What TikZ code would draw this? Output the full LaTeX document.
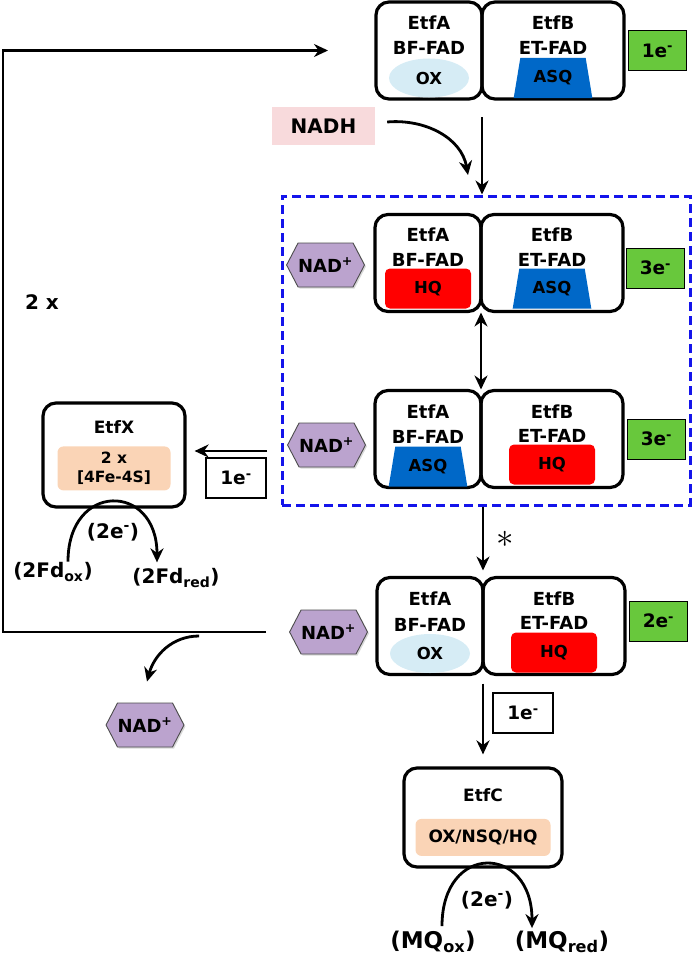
\documentclass[tikz,border=0pt]{standalone}
\usepackage{fontspec}
\setmainfont{DejaVu Sans}
\usetikzlibrary{arrows.meta,calc,positioning,shapes.geometric,shapes.symbols,shadows}

\definecolor{egreen}{RGB}{104,200,60}
\definecolor{nadpurple}{RGB}{187,163,206}
\definecolor{oxblue}{RGB}{214,236,245}
\definecolor{asqblue}{RGB}{0,104,200}
\definecolor{hqred}{RGB}{255,0,0}
\definecolor{fesorange}{RGB}{250,212,182}
\definecolor{nadhpink}{RGB}{248,218,220}
\definecolor{frameblue}{RGB}{20,20,235}
\newcommand{\fsz}[1]{\fontsize{#1}{#1}\selectfont\bfseries}

\begin{document}
\begin{tikzpicture}[x=1pt, y=-1pt, >={Stealth[length=14pt,width=13pt]}, node distance=10pt]
  % --- styles ---
  \tikzset{
    half/.style    = {draw, line width=3.2pt, rounded corners=13pt, minimum height=97pt, inner sep=0pt, outer sep=0pt},
    halfA/.style   = {half, minimum width=106pt},
    halfB/.style   = {half, minimum width=142pt},
    lab/.style     = {font=\fsz{18}, inner sep=0pt},
    ebox/.style    = {draw, line width=0.9pt, fill=egreen, minimum width=58pt, minimum height=40pt, inner sep=0pt, font=\fsz{18.5}},
    wbox/.style    = {draw, line width=1.4pt, fill=white, minimum width=60pt, minimum height=40pt, inner sep=0pt, font=\fsz{18.5}},
    nad/.style     = {signal, signal to=east and west, signal pointer angle=125, draw=black!70, line width=0.9pt,
                      fill=nadpurple, minimum width=75pt, minimum height=44pt, inner sep=0pt, font=\fsz{18},
                      drop shadow={opacity=0.3, shadow xshift=1.5pt, shadow yshift=-1.5pt}},
    oxst/.style    = {ellipse, fill=oxblue, minimum width=80pt, minimum height=39pt, inner sep=0pt, font=\fsz{16.5}},
    asqst/.style   = {trapezium, trapezium angle=75, trapezium stretches=true, fill=asqblue, minimum width=79pt,
                      minimum height=40pt, inner sep=0pt, font=\fsz{16.5}},
    hqst/.style    = {rectangle, rounded corners=5pt, fill=hqred, minimum width=86pt, minimum height=40pt, inner sep=0pt, font=\fsz{16.5}},
    fes/.style     = {rectangle, rounded corners=6pt, fill=fesorange, inner sep=0pt},
    subunit/.style = {draw, line width=3.2pt, rounded corners=13pt, inner sep=0pt},
    arr/.style     = {->, line width=2.8pt},
    cycleline/.style = {->, line width=2.3pt},
    txt/.style     = {font=\fsz{20}, inner sep=1pt}
  }

  % --- bifurcating frame ---
  \node[draw=frameblue, line width=3pt, dash pattern=on 9pt off 5pt, minimum width=408pt, minimum height=309pt, inner sep=0pt] (frame) at (486,350.5) {};

  % --- row 1: OX / ASQ ---
  \node[halfA] (A1) at (429,50.5) {};
  \node[halfB, right=0pt of A1] (B1) {};
  \node[oxst]  (A1s) at ($(A1.north)+(0,76)$) {OX};
  \node[asqst] (B1s) at ($(B1.north)+(0,76)$) {ASQ};
  \node[lab] (A1t) at ($(A1.north)+(0,21)$) {EtfA};
  \node[lab] (A1f) at ($(A1.north)+(0,46)$) {BF-FAD};
  \node[lab] (B1t) at ($(B1.north)+(0,21)$) {EtfB};
  \node[lab] (B1f) at ($(B1.north)+(0,46)$) {ET-FAD};
  \node[ebox, right=4pt of B1] (g1) {1e\textsuperscript{-}};

  % --- row 2: HQ / ASQ ---
  \node[halfA] (A2) at (428,263) {};
  \node[halfB, right=0pt of A2] (B2) {};
  \node[hqst]  (A2s) at ($(A2.north)+(0,74)$) {HQ};
  \node[asqst] (B2s) at ($(B2.north)+(0,74)$) {ASQ};
  \node[lab] (A2t) at ($(A2.north)+(0,20)$) {EtfA};
  \node[lab] (A2f) at ($(A2.north)+(0,45)$) {BF-FAD};
  \node[lab] (B2t) at ($(B2.north)+(0,20)$) {EtfB};
  \node[lab] (B2f) at ($(B2.north)+(0,45)$) {ET-FAD};
  \node[ebox, right=3pt of B2, yshift=-5pt] (g2) {3e\textsuperscript{-}};
  \node[nad, left=10pt of A2, yshift=-2pt] (n2) {NAD\textsuperscript{+}};

  % --- row 3: ASQ / HQ ---
  \node[halfA] (A3) at (428,439) {};
  \node[halfB, right=0pt of A3] (B3) {};
  \node[asqst] (A3s) at ($(A3.north)+(0,76)$) {ASQ};
  \node[hqst]  (B3s) at ($(B3.north)+(0,74)$) {HQ};
  \node[lab] (A3t) at ($(A3.north)+(0,21)$) {EtfA};
  \node[lab] (A3f) at ($(A3.north)+(0,46)$) {BF-FAD};
  \node[lab] (B3t) at ($(B3.north)+(0,21)$) {EtfB};
  \node[lab] (B3f) at ($(B3.north)+(0,45)$) {ET-FAD};
  \node[ebox, right=4pt of B3] (g3) {3e\textsuperscript{-}};
  \node[nad, left=9pt of A3, yshift=-6pt] (n3) {NAD\textsuperscript{+}};

  % --- row 4: OX / HQ ---
  \node[halfA] (A4) at (430,626) {};
  \node[halfB, right=0pt of A4] (B4) {};
  \node[oxst] (A4s) at ($(A4.north)+(0,76)$) {OX};
  \node[hqst] (B4s) at ($(B4.north)+(0,75)$) {HQ};
  \node[lab] (A4t) at ($(A4.north)+(0,21)$) {EtfA};
  \node[lab] (A4f) at ($(A4.north)+(0,47)$) {BF-FAD};
  \node[lab] (B4t) at ($(B4.north)+(0,21)$) {EtfB};
  \node[lab] (B4f) at ($(B4.north)+(0,45)$) {ET-FAD};
  \node[ebox, right=4pt of B4, yshift=5pt] (g4) {2e\textsuperscript{-}};
  \node[nad, left=9pt of A4, yshift=-6pt] (n4) {NAD\textsuperscript{+}};
  \node[nad] (n5) at (145,725) {NAD\textsuperscript{+}};

  % --- NADH entry ---
  \node[fill=nadhpink, minimum width=103pt, minimum height=38pt, inner sep=0pt, font=\fsz{20}] (nadh) at (323.5,126) {NADH};
  \coordinate (nadhend) at (468,175);
  \draw[arr] ([xshift=12pt,yshift=4pt]nadh.east) to[out=5, in=100] (nadhend);
  \draw[arr] ([yshift=-18pt]A1.south east) -- (A1.south east |- frame.north);
  \draw[<->, line width=2.8pt, shorten <=1pt, shorten >=1pt] (A2.south east) -- (A3.north east);
  \draw[arr] (frame.south -| A4.north east) -- ([yshift=7pt]A4.north east);
  \node[font=\Huge, scale=1.4] (star) at (505,539) {$\ast$};

  % --- EtfX branch ---
  \node[subunit, minimum width=142pt, minimum height=104pt] (etfx) at (114,455) {};
  \node[lab, font=\fsz{17}] (etfxt) at ($(etfx.north)+(0,26)$) {EtfX};
  \node[fes, minimum width=113pt, minimum height=44pt, align=center, font=\fsz{15.5}] (etfxs) at ($(etfx.north)+(0,67)$) {2 x\\[3pt]{[4Fe-4S]}};
  \coordinate (xstart) at (267,451);
  \draw[arr] (xstart) -- ([xshift=8pt]etfx.east |- xstart);
  \node[wbox] (e4) at (236,478) {1e\textsuperscript{-}};
  \node[txt] (fdox) at (53,572) {(2Fd\textsubscript{ox})};
  \node[txt] (fdred) at (176,578) {(2Fd\textsubscript{red})};
  \node[txt] (x2e) at (113,532) {(2e\textsuperscript{-})};
  \draw[arr] ([xshift=15pt]fdox.north) .. controls +(0,-80) and +(0,-80) .. ([xshift=-19pt,yshift=5pt]fdred.north);

  % --- EtfC branch ---
  \node[subunit, minimum width=158pt, minimum height=99pt] (etfc) at (483,817.5) {};
  \node[lab, font=\fsz{17}] (etfct) at ($(etfc.north)+(0,29)$) {EtfC};
  \node[fes, minimum width=135pt, minimum height=37pt, font=\fsz{17}] (etfcs) at ($(etfc.north)+(0,71)$) {OX/NSQ/HQ};
  \draw[arr] ([yshift=-9pt]A4.south east) -- ([yshift=12pt]etfc.north);
  \node[wbox] (e5) at (523,713) {1e\textsuperscript{-}};
  \node[txt, font=\fsz{23}] (mqox) at (433,942) {(MQ\textsubscript{ox})};
  \node[txt, font=\fsz{23}] (mqred) at (562,942) {(MQ\textsubscript{red})};
  \node[txt] (c2e) at (487,900) {(2e\textsuperscript{-})};
  \draw[arr] ([xshift=9pt,yshift=4pt]mqox.north) .. controls +(0,-84) and +(0,-84) .. ([xshift=-30pt,yshift=2pt]mqred.north);

  % --- recycling loop (2 x) ---
  \coordinate (loopx) at (3,0);
  \draw[cycleline] ([xshift=-23pt]n4.west) -- (n4.west -| loopx) -- (A1.west -| loopx) -- ([xshift=-48pt]A1.west);
  \node[txt] (twox) at (42,302) {2 x};
  \draw[arr] ([xshift=-90pt,yshift=-4pt]n4.west) to[out=180, in=75] ([xshift=2pt,yshift=21pt]n5.north);

  \useasboundingbox (0,0) rectangle (693,958);
\end{tikzpicture}
\end{document}
